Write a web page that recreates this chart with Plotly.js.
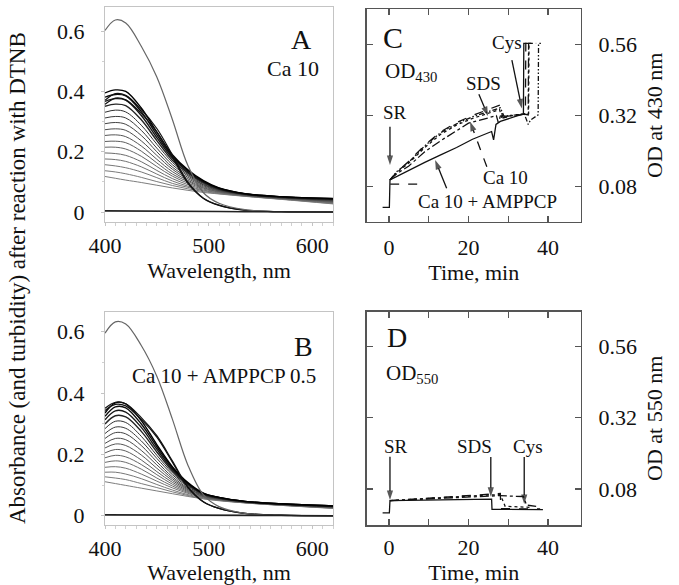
<!DOCTYPE html>
<html><head><meta charset="utf-8">
<script src="https://cdn.plot.ly/plotly-3.0.1.min.js"></script>
<style>html,body{margin:0;padding:0;background:#fff}#chart{width:679px;height:585px}</style>
</head><body><div id="chart"></div>
<script>
// ---------- Spectra (panels A, B) ----------
const wl = [400, 410, 420, 435, 450, 465, 480, 495, 510, 535, 570, 620];

const famA = [
  [0.118,0.112,0.106,0.098,0.089,0.080,0.072,0.065,0.060,0.052,0.042,0.027],
  [0.137,0.133,0.127,0.115,0.101,0.088,0.077,0.068,0.061,0.053,0.043,0.028],
  [0.157,0.153,0.147,0.133,0.114,0.095,0.082,0.071,0.063,0.053,0.043,0.030],
  [0.176,0.174,0.168,0.150,0.126,0.103,0.086,0.073,0.064,0.054,0.044,0.031],
  [0.196,0.194,0.188,0.167,0.138,0.111,0.091,0.076,0.066,0.055,0.045,0.032],
  [0.215,0.215,0.209,0.185,0.151,0.119,0.096,0.079,0.067,0.055,0.045,0.033],
  [0.234,0.235,0.230,0.202,0.163,0.126,0.101,0.081,0.068,0.056,0.046,0.035],
  [0.254,0.256,0.250,0.219,0.175,0.134,0.105,0.084,0.070,0.056,0.046,0.036],
  [0.273,0.276,0.271,0.236,0.188,0.142,0.110,0.087,0.071,0.057,0.047,0.037],
  [0.293,0.297,0.291,0.254,0.200,0.149,0.115,0.090,0.073,0.058,0.048,0.038],
  [0.312,0.317,0.312,0.271,0.212,0.157,0.120,0.092,0.074,0.058,0.048,0.040],
  [0.331,0.338,0.332,0.288,0.225,0.165,0.124,0.095,0.075,0.059,0.049,0.041],
  [0.351,0.358,0.353,0.306,0.237,0.172,0.129,0.098,0.077,0.060,0.050,0.042],
  [0.367,0.376,0.371,0.320,0.247,0.179,0.133,0.100,0.078,0.060,0.050,0.043],
  [0.381,0.390,0.385,0.333,0.256,0.185,0.137,0.102,0.079,0.061,0.051,0.044],
  [0.395,0.405,0.400,0.345,0.265,0.190,0.140,0.104,0.080,0.061,0.051,0.045]
];
const topA  = [0.602,0.637,0.627,0.550,0.448,0.307,0.154,0.064,0.029,0.008,0.001,0.000];
const cysA1 = [0.357,0.378,0.372,0.327,0.266,0.182,0.095,0.045,0.022,0.006,0.001,0.000];
const cysA2 = [0.371,0.393,0.387,0.340,0.277,0.190,0.099,0.046,0.023,0.006,0.001,0.000];
const baseA = [0.004,0.004,0.004,0.003,0.003,0.003,0.002,0.002,0.002,0.001,0.001,0.000];

const famB = [
  [0.111,0.105,0.099,0.090,0.081,0.072,0.063,0.055,0.049,0.042,0.034,0.024],
  [0.127,0.123,0.118,0.105,0.092,0.078,0.066,0.056,0.050,0.042,0.034,0.025],
  [0.142,0.142,0.136,0.121,0.102,0.084,0.069,0.058,0.051,0.043,0.035,0.025],
  [0.158,0.160,0.155,0.136,0.113,0.091,0.073,0.059,0.051,0.043,0.035,0.026],
  [0.174,0.179,0.174,0.152,0.123,0.097,0.076,0.060,0.052,0.043,0.035,0.026],
  [0.189,0.197,0.192,0.167,0.134,0.103,0.079,0.062,0.053,0.044,0.036,0.027],
  [0.205,0.216,0.211,0.182,0.144,0.109,0.082,0.063,0.054,0.044,0.036,0.027],
  [0.221,0.234,0.229,0.198,0.155,0.115,0.085,0.064,0.054,0.045,0.037,0.028],
  [0.236,0.252,0.248,0.213,0.166,0.121,0.088,0.066,0.055,0.045,0.037,0.029],
  [0.252,0.271,0.267,0.229,0.176,0.127,0.091,0.067,0.056,0.045,0.037,0.029],
  [0.268,0.289,0.285,0.244,0.187,0.134,0.095,0.068,0.057,0.046,0.038,0.030],
  [0.284,0.308,0.304,0.259,0.197,0.140,0.098,0.070,0.058,0.046,0.038,0.030],
  [0.299,0.326,0.322,0.275,0.208,0.146,0.101,0.071,0.058,0.046,0.038,0.031],
  [0.313,0.342,0.338,0.288,0.217,0.151,0.104,0.072,0.059,0.047,0.039,0.031],
  [0.324,0.355,0.352,0.299,0.225,0.156,0.106,0.073,0.060,0.047,0.039,0.032],
  [0.335,0.368,0.365,0.310,0.232,0.160,0.108,0.074,0.060,0.047,0.039,0.032]
];
const topB  = [0.595,0.632,0.625,0.555,0.455,0.315,0.165,0.068,0.030,0.008,0.001,0.000];
const cysB1 = [0.343,0.363,0.358,0.314,0.256,0.175,0.092,0.045,0.024,0.008,0.002,0.000];
const cysB2 = [0.350,0.370,0.365,0.320,0.261,0.179,0.094,0.046,0.024,0.008,0.002,0.000];
const baseB = [0.003,0.003,0.003,0.003,0.002,0.002,0.002,0.002,0.001,0.001,0.001,0.000];

const specTicksX = [400, 500, 600];
const specTicksY = [0, 0.2, 0.4, 0.6];

// ---------- Kinetics (panels C, D) ----------
const timeTicks = [0, 20, 40];
const timeMinor = [10, 30];
const odTicks = [0.08, 0.32, 0.56];
const odLabels = ['0.08', '0.32', '0.56'];

// C: OD430
const cSolidT = [-1.6,0.1,0.25,2,5,9,13,17,21,25,25.8,26.3,26.9,28,30,32,33.8,33.9,35.5];
const cSolidV = [0.010,0.010,0.103,0.115,0.136,0.162,0.187,0.212,0.240,0.262,0.266,0.238,0.290,0.300,0.310,0.318,0.325,0.563,0.563];
const cDashT = [0.25,2,5,9,13,17,21,25,28,28.3,28.7,30,32,34.3,34.4,36];
const cDashV = [0.103,0.130,0.166,0.220,0.265,0.296,0.320,0.340,0.356,0.330,0.312,0.316,0.320,0.325,0.563,0.563];
const cDotT = [0.25,2,5,9,13,17,21,25,27.8,28.4,30,32,35.1,35.2,37];
const cDotV = [0.103,0.128,0.160,0.212,0.257,0.288,0.310,0.328,0.340,0.310,0.318,0.322,0.326,0.563,0.563];
const cDashDotT = [0.25,2,5,9,13,17,20,25,27,27.5,28,30,32,34,35,35.1,36.3];
const cDashDotV = [0.103,0.124,0.150,0.198,0.235,0.270,0.294,0.312,0.320,0.295,0.318,0.318,0.322,0.325,0.322,0.563,0.563];
const cDdotT = [0.25,2,5,9,13,17,21,25,28,29,30,32,34,35,35.6,37.5,37.6,38.4];
const cDdotV = [0.103,0.131,0.163,0.218,0.262,0.292,0.316,0.334,0.346,0.315,0.320,0.322,0.326,0.290,0.305,0.322,0.563,0.563];
const cBaseT = [0.3, 7.5];
const cBaseV = [0.089, 0.089];

// D: OD550
const dSolidT = [-1.6,0.1,0.25,5,10,15,20,25.8,25.9,30,38.7];
const dSolidV = [0.000,0.000,0.041,0.042,0.043,0.044,0.045,0.046,0.012,0.011,0.011];
const dDashT = [0.25,5,10,15,20,24,28,28.1,33,38];
const dDashV = [0.041,0.045,0.049,0.054,0.059,0.063,0.065,0.014,0.013,0.013];
const dDashDotT = [0.25,5,10,15,20,25,28,31,33.8,34.6,37];
const dDashDotV = [0.041,0.044,0.047,0.051,0.054,0.057,0.058,0.056,0.055,0.026,0.022];
const dDotT = [0.25,5,10,15,20,25,27.8,28.5,29.2,33,36];
const dDotV = [0.041,0.045,0.049,0.053,0.057,0.060,0.061,0.045,0.022,0.020,0.018];

// Event arrows (tail time, tail OD, tip time, tip OD)
const cArrows = [
  [0.25, 0.282, 0.25, 0.153],   // SR
  [22.6, 0.392, 24.9, 0.318],   // SDS
  [30.9, 0.507, 33.4, 0.344],   // Cys
  [14.5, 0.075, 11.6, 0.170]    // Ca 10 + AMPPCP
];
const cDashedPointer = [24.6, 0.147, 20.4, 0.299]; // Ca 10
const dArrows = [
  [0.25, 0.189, 0.25, 0.043],   // SR
  [25.6, 0.188, 25.6, 0.054],   // SDS
  [34.0, 0.188, 34.0, 0.0295]   // Cys
];

// ---------- Build ----------
const W = 679, H = 585;
const serif = 'Liberation Serif';
const fx = p => p / W, fy = p => 1 - p / H;
const tf = (s) => ({family: serif, size: s, color: '#111'});

const traces = [];
function specTraces(fam, top, cys1, cys2, base, xa, ya) {
  const n = fam.length;
  fam.forEach((row, i) => {
    const g = Math.round(125 - 125 * Math.pow(i / (n - 1), 1.5));
    traces.push({x: wl, y: row, xaxis: xa, yaxis: ya, type: 'scatter', mode: 'lines',
      line: {color: `rgb(${g},${g},${g})`, width: i > n - 5 ? 1.4 : 1.0, shape: 'spline', smoothing: 1},
      hoverinfo: 'skip'});
  });
  [cys1, cys2].forEach(c => traces.push({x: wl, y: c, xaxis: xa, yaxis: ya, mode: 'lines',
    line: {color: '#111', width: 1.2, shape: 'spline', smoothing: 1}}));
  traces.push({x: wl, y: top, xaxis: xa, yaxis: ya, mode: 'lines',
    line: {color: '#666', width: 1.2, shape: 'spline', smoothing: 1}});
  traces.push({x: wl, y: base, xaxis: xa, yaxis: ya, mode: 'lines',
    line: {color: '#222', width: 1.6}});
}
specTraces(famA, topA, cysA1, cysA2, baseA, 'x', 'y');
specTraces(famB, topB, cysB1, cysB2, baseB, 'x2', 'y2');

const ddot = '5px,2px,1.5px,2px,1.5px,2px';
function kin(t, v, dash, xa, ya) {
  traces.push({x: t, y: v, xaxis: xa, yaxis: ya, mode: 'lines',
    line: {color: '#111', width: 1.3, dash: dash}});
}
kin(cDdotT, cDdotV, ddot, 'x3', 'y3');
kin(cDashDotT, cDashDotV, 'dashdot', 'x3', 'y3');
kin(cDotT, cDotV, 'dot', 'x3', 'y3');
kin(cDashT, cDashV, 'dash', 'x3', 'y3');
kin(cSolidT, cSolidV, 'solid', 'x3', 'y3');
kin(cBaseT, cBaseV, 'dash', 'x3', 'y3');

kin(dDotT, dDotV, 'dot', 'x4', 'y4');
kin(dDashDotT, dDashDotV, 'dashdot', 'x4', 'y4');
kin(dDashT, dDashV, 'dash', 'x4', 'y4');
kin(dSolidT, dSolidV, 'solid', 'x4', 'y4');

function arrowTrace(a, xa, ya, dash) {
  traces.push({x: [a[0], a[2]], y: [a[1], a[3]], xaxis: xa, yaxis: ya, mode: 'lines+markers',
    line: {color: '#111', width: 1.3, dash: dash || 'solid'},
    marker: {symbol: 'arrow', angleref: 'previous', size: [0, 10], color: '#111', line: {width: 0}},
    cliponaxis: false});
}
cArrows.forEach(a => arrowTrace(a, 'x3', 'y3'));
arrowTrace(cDashedPointer, 'x3', 'y3', 'dash');
dArrows.forEach(a => arrowTrace(a, 'x4', 'y4'));

const dxA = [fx(105), fx(333)];
const dxC = [fx(366.7), fx(580.7)];
const dyTop = [fy(222), fy(7)];
const dyBot = [fy(525), fy(311.7)];
const dyC = [fy(221.7), fy(9)];

function specX(dom, anchor) {
  return {domain: dom, anchor: anchor, range: [400, 620], showline: true, linecolor: '#c4c4c4', linewidth: 1,
    mirror: true, ticks: 'outside', ticklen: 3, tickcolor: '#c4c4c4', tickvals: specTicksX,
    minor: {tickvals: [410,420,430,440,450,460,470,480,490,510,520,530,540,550,560,570,580,590,610,620], ticks: 'outside', ticklen: 3, tickcolor: '#d0d0d0'},
    showgrid: false, zeroline: false, tickfont: tf(22), ticklabelstandoff: 1,
    title: {text: 'Wavelength, nm', font: tf(22), standoff: 4}};
}
function specY(dom, anchor, range) {
  return {domain: dom, anchor: anchor, range: range, showline: true, linecolor: '#c4c4c4', linewidth: 1,
    mirror: true, ticks: 'outside', ticklen: 3, tickcolor: '#c4c4c4', tickvals: specTicksY,
    minor: {tickvals: [0.1,0.3,0.5], ticks: 'outside', ticklen: 2, tickcolor: '#d0d0d0'},
    showgrid: false, zeroline: false, tickfont: tf(22), ticklabelstandoff: 12};
}
function timeX(dom, anchor, lso, tso) {
  return {domain: dom, anchor: anchor, range: [-5.6, 48.2], showline: true, linecolor: '#555', linewidth: 1.5,
    mirror: 'ticks', ticks: 'inside', ticklen: 6, tickwidth: 1.3, tickcolor: '#555',
    tickvals: timeTicks,
    minor: {tickvals: timeMinor, ticks: 'inside', ticklen: 6, tickwidth: 1.3, tickcolor: '#555', showgrid: false},
    showgrid: false, zeroline: false,
    tickfont: tf(22), ticklabelstandoff: lso, title: {text: 'Time, min', font: tf(22), standoff: tso}};
}
function timeY(dom, anchor, range, title) {
  return {domain: dom, anchor: anchor, side: 'right', range: range, showline: true, linecolor: '#555', linewidth: 1.5,
    mirror: 'ticks', ticks: 'inside', ticklen: 6, tickwidth: 1.3, tickcolor: '#555',
    tickvals: odTicks, ticktext: odLabels, showgrid: false, zeroline: false,
    tickfont: tf(22), ticklabelstandoff: 12, title: {text: title, font: tf(22), standoff: 10}};
}

function txt(text, x, y, size, extra) {
  return Object.assign({text: text, x: fx(x), y: fy(y), xref: 'paper', yref: 'paper',
    showarrow: false, font: tf(size), xanchor: 'center', yanchor: 'middle'}, extra || {});
}

const annotations = [
  txt('Absorbance (and turbidity) after reaction with DTNB', 17, 278, 23, {textangle: -90}),
  txt('A', 301, 40, 28),
  txt('Ca 10', 293, 68, 22),
  txt('B', 303, 346, 28),
  txt('Ca 10 + AMPPCP 0.5', 224, 376, 21),
  txt('C', 393, 37, 30),
  txt('OD<sub>430</sub>', 383, 72, 21, {xanchor: 'left'}),
  txt('SR', 395, 113, 19),
  txt('SDS', 483, 84, 19),
  txt('Cys', 507, 43, 19),
  txt('Ca 10', 505, 177, 19),
  txt('Ca 10 + AMPPCP', 487, 201, 19),
  txt('D', 397, 337, 28),
  txt('OD<sub>550</sub>', 384, 374, 21, {xanchor: 'left'}),
  txt('SR', 396, 446, 19),
  txt('SDS', 474, 446, 19),
  txt('Cys', 528, 446, 19)
];

const layout = {
  width: W, height: H, margin: {l: 0, r: 0, t: 0, b: 0},
  paper_bgcolor: '#fff', plot_bgcolor: '#fff', showlegend: false,
  font: {family: serif, color: '#111'},
  xaxis: specX(dxA, 'y'), yaxis: specY(dyTop, 'x', [-0.033, 0.68]),
  xaxis2: specX(dxA, 'y2'), yaxis2: specY(dyBot, 'x2', [-0.030, 0.665]),
  xaxis3: timeX(dxC, 'y3', 5, 2), yaxis3: timeY(dyC, 'x3', [-0.038, 0.679], 'OD at 430 nm'),
  xaxis4: timeX(dxC, 'y4', 2, 0), yaxis4: timeY(dyBot, 'x4', [-0.041, 0.677], 'OD at 550 nm'),
  annotations: annotations
};

Plotly.newPlot('chart', traces, layout, {staticPlot: true, displayModeBar: false});
</script>
</body></html>
